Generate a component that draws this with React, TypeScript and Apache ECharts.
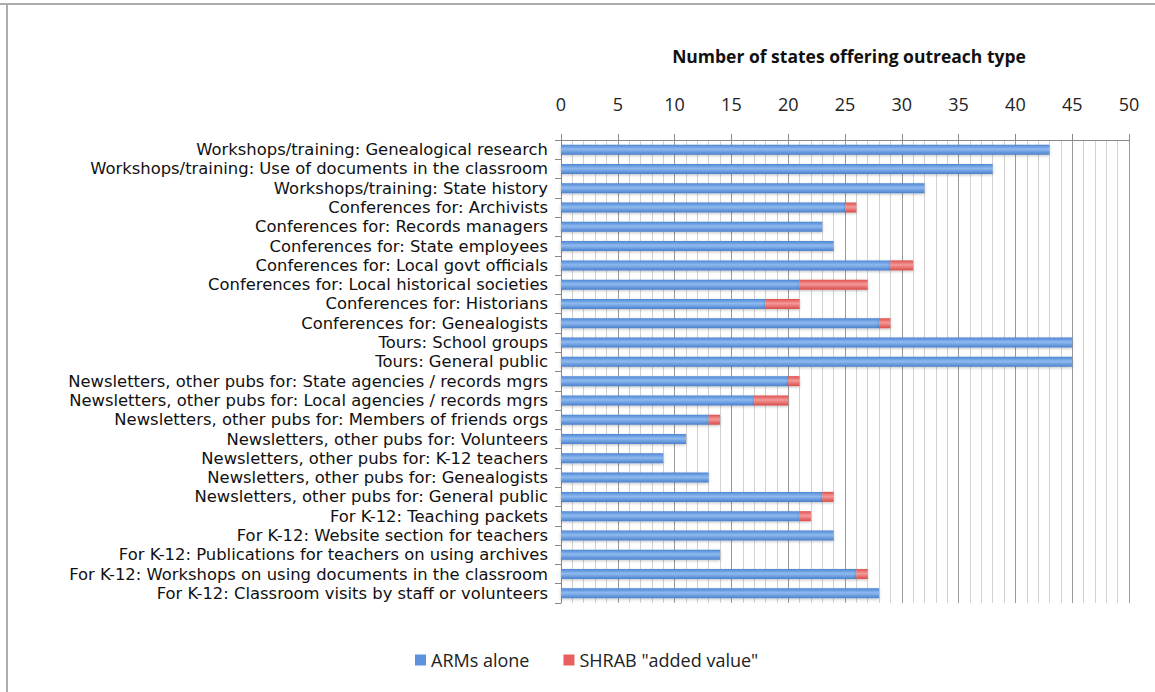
import React, { useEffect, useRef } from "react";
import * as echarts from "echarts";

const categories = [
  "Workshops/training: Genealogical research",
  "Workshops/training: Use of documents in the classroom",
  "Workshops/training: State history",
  "Conferences for: Archivists",
  "Conferences for: Records managers",
  "Conferences for: State employees",
  "Conferences for: Local govt officials",
  "Conferences for: Local historical societies",
  "Conferences for: Historians",
  "Conferences for: Genealogists",
  "Tours: School groups",
  "Tours: General public",
  "Newsletters, other pubs for: State agencies / records mgrs",
  "Newsletters, other pubs for: Local agencies / records mgrs",
  "Newsletters, other pubs for: Members of friends orgs",
  "Newsletters, other pubs for: Volunteers",
  "Newsletters, other pubs for: K-12 teachers",
  "Newsletters, other pubs for: Genealogists",
  "Newsletters, other pubs for: General public",
  "For K-12: Teaching packets",
  "For K-12: Website section for teachers",
  "For K-12: Publications for teachers on using archives",
  "For K-12: Workshops on using documents in the classroom",
  "For K-12: Classroom visits by staff or volunteers",
];

const armsAlone = [43, 38, 32, 25, 23, 24, 29, 21, 18, 28, 45, 45, 20, 17, 13, 11, 9, 13, 23, 21, 24, 14, 26, 28];
const shrabAdded = [0, 0, 0, 1, 0, 0, 2, 6, 3, 1, 0, 0, 1, 3, 1, 0, 0, 0, 1, 1, 0, 0, 1, 0];

const seriesNames = ["ARMs alone", 'SHRAB "added value"'];
const chartTitle = "Number of states offering outreach type";

const FONT = "'Open Sans', sans-serif";
const LABEL_FONT = "'DejaVu Sans', sans-serif";

export default function App() {
  const ref = useRef<HTMLDivElement>(null);
  useEffect(() => {
    if (!ref.current) return;
    const chart = echarts.init(ref.current, undefined, { renderer: "svg" });
    const blue = new echarts.graphic.LinearGradient(0, 0, 0, 1, [
      { offset: 0, color: "#4d86d4" },
      { offset: 0.45, color: "#8fbaf0" },
      { offset: 1, color: "#4a80cc" },
    ]);
    const red = new echarts.graphic.LinearGradient(0, 0, 0, 1, [
      { offset: 0, color: "#e0504f" },
      { offset: 0.45, color: "#f39a98" },
      { offset: 1, color: "#d94b4a" },
    ]);
    chart.setOption({
      animation: false,
      backgroundColor: "#ffffff",
      title: {
        text: chartTitle,
        left: 844,
        top: 42,
        textAlign: "center",
        textStyle: { fontFamily: FONT, fontSize: 17.5, fontWeight: "bold", color: "#111" },
      },
      legend: {
        bottom: 18,
        left: 410,
        itemWidth: 11,
        itemHeight: 11,
        itemGap: 34,
        icon: "rect",
        textStyle: { fontFamily: FONT, fontSize: 18, color: "#222" },
        data: [
          { name: seriesNames[0], itemStyle: { color: "#5b94dc" } },
          { name: seriesNames[1], itemStyle: { color: "#e8605f" } },
        ],
      },
      graphic: [
        { type: "line", shape: { x1: 0, y1: 4, x2: 1155, y2: 4 }, style: { stroke: "#adadad", lineWidth: 2 } },
        { type: "line", shape: { x1: 7, y1: 4, x2: 7, y2: 692 }, style: { stroke: "#adadad", lineWidth: 2 } },
      ],
      grid: { left: 561, right: 26, top: 140, bottom: 89, containLabel: false },
      xAxis: {
        type: "value",
        position: "top",
        min: 0,
        max: 50,
        interval: 5,
        axisLine: { show: true, lineStyle: { color: "#888", width: 1 } },
        axisTick: { show: true, length: 6, lineStyle: { color: "#888" } },
        axisLabel: { fontFamily: FONT, fontSize: 18, color: "#222", margin: 27 },
        splitLine: { show: true, lineStyle: { color: "#9a9a9a", width: 1 } },
        minorTick: { show: false, splitNumber: 5 },
        minorSplitLine: { show: true, lineStyle: { color: "#d2d2d2", width: 1 } },
      },
      yAxis: {
        type: "category",
        inverse: true,
        data: categories,
        axisLine: { show: true, lineStyle: { color: "#888" } },
        axisTick: { show: true, length: 6, lineStyle: { color: "#888" } },
        axisLabel: {
          fontFamily: LABEL_FONT,
          fontSize: 16.4,
          color: "#111",
          margin: 13,
          interval: 0,
          hideOverlap: false,
          lineHeight: 18,
          padding: [4, 0, 0, 0],
        },
      },
      series: [
        {
          name: seriesNames[0],
          type: "bar",
          stack: "total",
          data: armsAlone,
          barWidth: 10,
          itemStyle: { color: blue, shadowColor: "rgba(0,0,0,0.25)", shadowBlur: 3, shadowOffsetY: 1 },
        },
        {
          name: seriesNames[1],
          type: "bar",
          stack: "total",
          data: shrabAdded,
          barWidth: 10,
          itemStyle: { color: red, shadowColor: "rgba(0,0,0,0.25)", shadowBlur: 3, shadowOffsetY: 1 },
        },
      ],
    });
    return () => chart.dispose();
  }, []);
  return (
    <div
      ref={ref}
      style={{ position: "fixed", left: 0, top: 0, width: 1155, height: 692 }}
    />
  );
}
